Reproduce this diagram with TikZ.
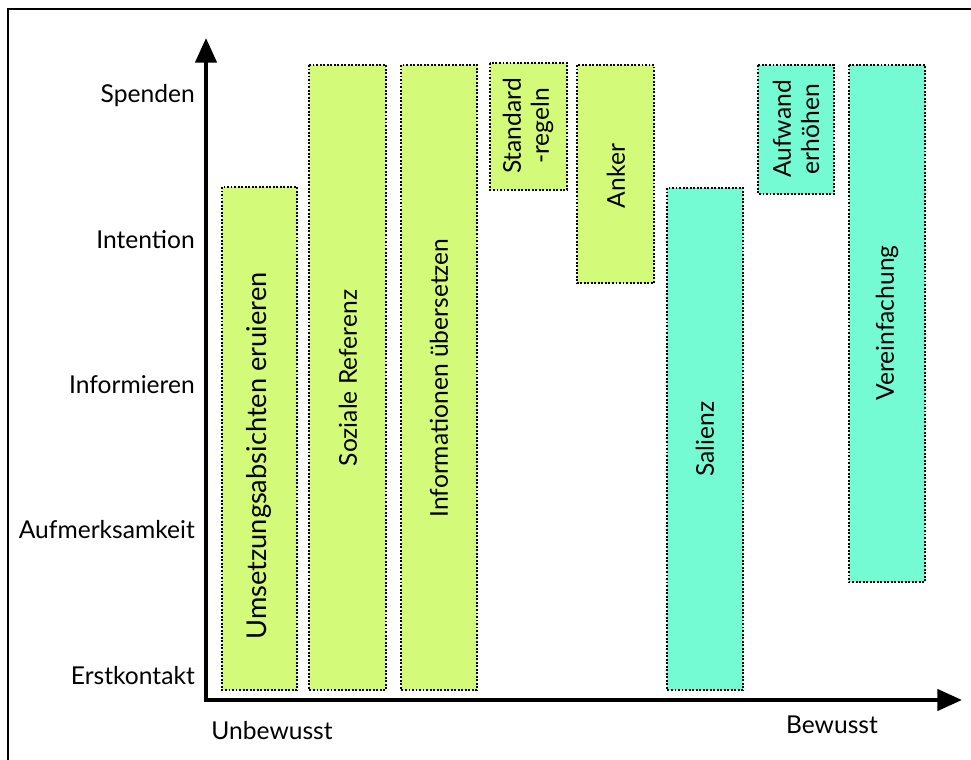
\documentclass[tikz,border=0pt]{standalone}
\usepackage{fontspec}
\setmainfont{Lato}
\usetikzlibrary{arrows.meta,positioning}
\definecolor{barlime}{RGB}{212,250,121}
\definecolor{barmint}{RGB}{116,251,211}
\tikzset{
  lbl/.style={font=\fontsize{14}{16}\selectfont},
  bartxt/.style={font=\fontsize{14}{16}\selectfont,rotate=90,align=center},
  barbox/.style={draw=black,line width=1.4pt,dash pattern=on 1.1pt off 0.9pt},
  axis/.style={line width=2.3pt,-{Triangle[length=14pt,width=12pt]}}
}
\begin{document}
\begin{tikzpicture}[x=0.02cm,y=-0.02cm]
\useasboundingbox (0,0) rectangle (971,760);
% frame
\draw[line width=1.4pt] (8,760)--(8,9)--(971,9);
% axes
\coordinate (o) at (206,700);
\coordinate (ytip) at (206,38);
\coordinate (xtip) at (962,700);
\draw[axis] ([yshift=-1.1pt]o)--(ytip);
\draw[axis] ([xshift=-1.1pt]o)--(xtip);
% stages
\node[lbl,anchor=east] (spenden) at (201,96) {Spenden};
\node[lbl,anchor=east] (intention) at (201,240) {Intention};
\node[lbl,anchor=east] (informieren) at (201,385) {Informieren};
\node[lbl,anchor=east] (aufmerksam) at (201,530) {Aufmerksamkeit};
\node[lbl,anchor=east] (erstkontakt) at (201,676) {Erstkontakt};
\node[lbl] (unbewusst) at (272,731) {Unbewusst};
\node[lbl] (bewusst) at (832,725) {Bewusst};
% bars
\filldraw[barbox,fill=barlime] (222,187) rectangle (297,690);
\filldraw[barbox,fill=barlime] (309,65) rectangle (386,690);
\filldraw[barbox,fill=barlime] (401,65) rectangle (477,690);
\filldraw[barbox,fill=barlime] (490,63) rectangle (567,190);
\filldraw[barbox,fill=barlime] (577,65) rectangle (654,283);
\filldraw[barbox,fill=barmint] (667,188) rectangle (743,690);
\filldraw[barbox,fill=barmint] (758,65) rectangle (834,194);
\filldraw[barbox,fill=barmint] (849,65) rectangle (925,582);
\node[bartxt,font=\fontsize{15.5}{17}\selectfont] (umsetzung) at (259,456) {Umsetzungsabsichten eruieren};
\node[bartxt] (sozial) at (348,378) {Soziale Referenz};
\node[bartxt] (information) at (439,378) {Informationen übersetzen};
\node[bartxt] (standard) at (528,126) {Standard\\-regeln};
\node[bartxt] (anker) at (616,176) {Anker};
\node[bartxt] (salienz) at (705,439) {Salienz};
\node[bartxt] (aufwand) at (796,129) {Aufwand\\erhöhen};
\node[bartxt] (vereinfachung) at (887,323) {Vereinfachung};
\end{tikzpicture}
\end{document}
